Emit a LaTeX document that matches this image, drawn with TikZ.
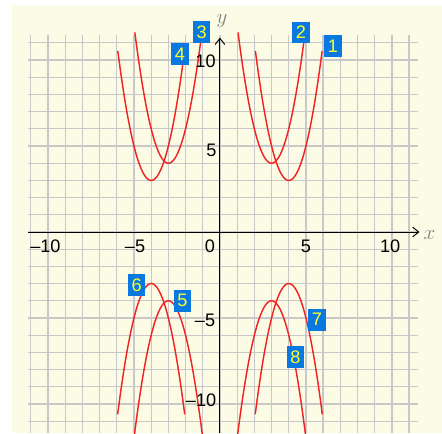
\documentclass[tikz,border=0pt]{standalone}
\usepackage{fontspec}
\setmainfont{Liberation Sans}
\usepackage{xcolor}
\usetikzlibrary{arrows.meta}

\definecolor{paper}{RGB}{252,252,230}
\definecolor{gridgray}{RGB}{200,200,200}
\definecolor{curvered}{RGB}{240,35,35}
\definecolor{tagblue}{RGB}{10,120,225}
\definecolor{tagyellow}{RGB}{255,255,40}

\begin{document}
\begin{tikzpicture}[
  x=0.5cm, y=0.5cm,
  gridline/.style={draw=gridgray, line width=1.1pt},
  axis/.style={draw=black, line width=0.8pt,
    -{Straight Barb[length=5pt, width=8pt]}},
  curve/.style={draw=curvered, line width=1.2pt, samples=80, smooth},
  tick/.style={font=\fontsize{15}{15}\selectfont, inner sep=0pt},
  axlbl/.style={text=gray, font=\fontsize{17}{17}\selectfont, inner sep=0pt},
  tag/.style={
    rectangle, fill=tagblue, text=tagyellow, inner sep=0pt,
    minimum width=14.5pt, minimum height=18pt,
    font=\fontsize{15}{15}\selectfont
  }
]

% ── Marco y fondo ─────────────────────────────────────────────
\useasboundingbox (-12.79,-11.69) rectangle (12.91,13.49);
\fill[white] (-12.79,-11.69) rectangle (12.91,13.49);
\fill[paper] (-12.09,-11.69) rectangle (12.91,13.2);

% ── Cuadrícula ────────────────────────────────────────────────
\foreach \i in {-11,...,11} {
  \draw[gridline] (\i,-11.69) -- (\i,11.45);
  \draw[gridline] (-11.15,\i) -- (11.5,\i);
}

% ── Parábolas hacia arriba (1-4) ──────────────────────────────
\draw[curve] plot[domain=2.06:5.94]   (\x,{2*(\x-4)^2+3});
\draw[curve] plot[domain=1.05:4.95]   (\x,{2*(\x-3)^2+4});
\draw[curve] plot[domain=-4.95:-1.05] (\x,{2*(\x+3)^2+4});
\draw[curve] plot[domain=-5.94:-2.06] (\x,{2*(\x+4)^2+3});

% ── Parábolas hacia abajo (5-8) ───────────────────────────────
\draw[curve] plot[domain=-4.97:-1.03] (\x,{-2*(\x+3)^2-4});
\draw[curve] plot[domain=-5.95:-2.05] (\x,{-2*(\x+4)^2-3});
\draw[curve] plot[domain=2.05:5.95]   (\x,{-2*(\x-4)^2-3});
\draw[curve] plot[domain=1.03:4.97]   (\x,{-2*(\x-3)^2-4});

% ── Ejes ──────────────────────────────────────────────────────
\draw[axis] (-11.15,0) -- (11.6,0);
\draw[axis] (0,-11.69) -- (0,11.3);
\node[axlbl] (xl) at (12.18,-0.17) {$x$};
\node[axlbl] (yl) at (0.12,12.26) {$y$};

% Marcas del eje x
\node[tick] (xm10) at (-10.15,-0.81) {–10};
\node[tick] (xm5)  at (-4.94,-0.81)  {–5};
\node[tick] (x0)   at (-0.58,-0.81)  {0};
\node[tick] (x5)   at (5.0,-0.81)    {5};
\node[tick] (x10)  at (9.9,-0.81)    {10};

% Marcas del eje y
\node[tick] (y10)  at (-0.84,9.91)   {10};
\node[tick] (y5)   at (-0.49,4.77)   {5};
\node[tick] (ym5)  at (-0.87,-5.15)  {–5};
\node[tick] (ym10) at (-1.1,-9.8)    {–10};

% ── Etiquetas de las curvas ───────────────────────────────────
\node[tag] (t1) at (6.57,10.8)   {1};
\node[tag] (t2) at (4.7,11.6)    {2};
\node[tag] (t3) at (-1.07,11.63) {3};
\node[tag] (t4) at (-2.33,10.35) {4};
\node[tag] (t5) at (-2.18,-4.0)  {5};
\node[tag] (t6) at (-4.85,-3.08) {6};
\node[tag] (t7) at (5.64,-5.1)   {7};
\node[tag] (t8) at (4.39,-7.27)  {8};

\end{tikzpicture}
\end{document}
